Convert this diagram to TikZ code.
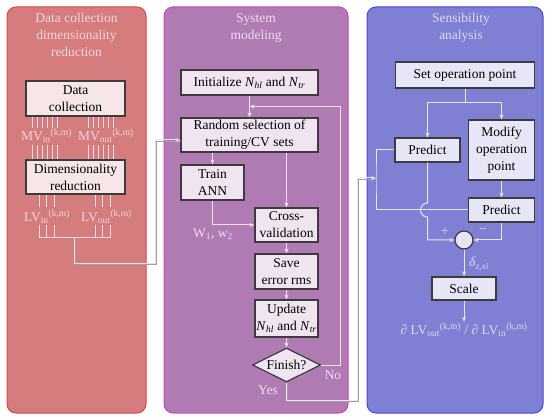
\documentclass[tikz,border=0pt]{standalone}
\usepackage{fontspec}
\setmainfont{Liberation Serif}
\usetikzlibrary{arrows.meta,shapes.geometric,calc}
\definecolor{redfill}{HTML}{D47C7E}
\definecolor{redborder}{HTML}{E04444}
\definecolor{purfill}{HTML}{B07BB3}
\definecolor{purborder}{HTML}{CC44CC}
\definecolor{blufill}{HTML}{7F7FD4}
\definecolor{bluborder}{HTML}{4848E0}
\definecolor{redbox}{HTML}{F6E6E8}
\definecolor{purbox}{HTML}{F1E4F1}
\definecolor{blubox}{HTML}{E6E6F6}
\definecolor{redtxt}{HTML}{F6D8D9}
\definecolor{purtxt}{HTML}{F0DCF0}
\definecolor{blutxt}{HTML}{DCDCF6}
\definecolor{redln}{HTML}{F4DCDD}
\definecolor{purln}{HTML}{F0E0F0}
\definecolor{bluln}{HTML}{E6E6F8}
\definecolor{boxline}{HTML}{3C3C3C}
\newcommand{\Nsub}[1]{\textit{N}\textsubscript{\textit{#1}}}
\begin{document}
\begin{tikzpicture}[x=1pt,y=-1pt,
  font=\fontsize{13.5}{17}\selectfont,
  panel/.style={rounded corners=9pt, line width=1pt},
  ttl/.style={align=center, inner sep=0pt, anchor=north},
  box/.style={draw=boxline, line width=1.2pt, align=center, inner sep=0pt, text=black},
  conn/.style={line width=1pt},
  tip/.style={-{Stealth[length=5pt,width=4pt]}},
  xconn/.style={line width=1pt, preaction={draw=gray!75, line width=1pt, transform canvas={shift={(1.2pt,-1.2pt)}}}},
  lbl/.style={inner sep=1pt}
]
\useasboundingbox (0,0) rectangle (550,420);
\fill[white] (0,0) rectangle (550,420);

% panels
\draw[panel, fill=redfill, draw=redborder] (7,7) rectangle (146,413);
\draw[panel, fill=purfill, draw=purborder] (164,7) rectangle (348,413);
\draw[panel, fill=blufill, draw=bluborder] (367,7) rectangle (543,413);

% titles
\node[ttl, text=redtxt] (t1) at (76.5,13) {Data collection\\dimensionality\\reduction};
\node[ttl, text=purtxt] (t2) at (256,13) {System\\modeling};
\node[ttl, text=blutxt] (t3) at (461,13) {Sensibility\\analysis};

% ---------- red panel ----------
\node[box, fill=redbox, minimum width=99pt, minimum height=35pt] (dc) at (75.5,98.5) {Data\\collection};
\node[box, fill=redbox, minimum width=99pt, minimum height=34pt] (dr) at (75.5,177) {Dimensionality\\reduction};
\node[lbl, text=redtxt] (mvin) at (46.5,136) {MV\textsubscript{in}\textsuperscript{(k,m)}};
\node[lbl, text=redtxt] (mvout) at (106,136) {MV\textsubscript{out}\textsuperscript{(k,m)}};
\node[lbl, text=redtxt] (lvin) at (47,217) {LV\textsubscript{in}\textsuperscript{(k,m)}};
\node[lbl, text=redtxt] (lvout) at (106.5,217) {LV\textsubscript{out}\textsuperscript{(k,m)}};
\foreach \x in {32,37,42,47,52,57,88,93,98,103,108,113}{
  \draw[conn, redln] (\x,0 |- dc.south) -- (\x,128);
  \draw[conn, redln] (\x,145) -- (\x,0 |- dr.north);
}
\foreach \x in {39,46.5,54,95,102.5,110}{
  \draw[conn, redln] (\x,0 |- dr.south) -- (\x,207);
  \draw[conn, redln] (\x,225) -- (\x,238);
}
\coordinate (lvc) at (74.5,238);
\draw[conn, redln] (39,238) -- (110,238);

% ---------- purple panel ----------
\node[box, fill=purbox, minimum width=137pt, minimum height=25pt] (init) at (249.5,82.5) {Initialize \Nsub{hl} and \Nsub{tr}};
\node[box, fill=purbox, minimum width=137pt, minimum height=34pt] (rs) at (249.5,135) {Random selection of\\training/CV sets};
\node[box, fill=purbox, minimum width=63pt, minimum height=35pt] (ann) at (212.5,182.5) {Train\\ANN};
\node[box, fill=purbox, minimum width=63pt, minimum height=34pt] (cv) at (286.5,225) {Cross-\\validation};
\node[box, fill=purbox, minimum width=63pt, minimum height=35pt] (save) at (286.5,271.5) {Save\\error rms};
\node[box, fill=purbox, minimum width=63pt, minimum height=37pt] (upd) at (286.5,318.5) {Update\\\Nsub{hl} and \Nsub{tr}};
\node[box, fill=purbox, diamond, aspect=2, minimum width=68pt, minimum height=34pt] (fin) at (286.5,365) {Finish?};

\coordinate (fb) at ($(init.south)!0.5!(rs.north)$);
\draw[conn, purln, tip] (init.south) -- (rs.north);
\draw[conn, purln, tip] (fin.east) -- ++(19,0) |- (fb);
\draw[conn, purln, tip] (rs.south -| ann.north) -- (ann.north);
\draw[conn, purln, tip] (rs.south -| cv.north) -- (cv.north);
\draw[conn, purln, tip] (ann.south) |- (cv.west);
\draw[conn, purln, tip] (cv.south) -- (save.north);
\draw[conn, purln, tip] (save.south) -- (upd.north);
\draw[conn, purln, tip] (upd.south) -- (fin.north);
\node[lbl, text=purtxt] (w12) at (213,234) {W\textsubscript{1}, w\textsubscript{2}};
\node[lbl, text=purtxt] (no) at (333,375) {No};
\node[lbl, text=purtxt] (yes) at (268,390) {Yes};

% ---------- blue panel ----------
\node[box, fill=blubox, minimum width=139pt, minimum height=26pt] (sop) at (465,75) {Set operation point};
\node[box, fill=blubox, minimum width=65pt, minimum height=24pt] (p1) at (427.5,150) {Predict};
\node[box, fill=blubox, minimum width=66pt, minimum height=60pt] (mod) at (501.5,150) {Modify\\operation\\point};
\node[box, fill=blubox, minimum width=66pt, minimum height=24pt] (p2) at (501.5,210) {Predict};
\node[draw=boxline, line width=1.2pt, fill=blubox, circle, minimum size=18pt, inner sep=0pt] (circ) at (464,240) {};
\node[box, fill=blubox, minimum width=64pt, minimum height=23pt] (sc) at (464,288.5) {Scale};
\node[lbl, text=blutxt] (res) at (464,330) {∂ LV\textsubscript{out}\textsuperscript{(k,m)} / ∂ LV\textsubscript{in}\textsuperscript{(k,m)}};

\coordinate (spl) at ($(sop.south)+(0,14)$);
\draw[conn, bluln] (sop.south) -- (spl);
\draw[conn, bluln, tip] (spl) -| (p1.north);
\draw[conn, bluln, tip] (spl) -| (mod.north);
\draw[conn, bluln, tip] (mod.south) -- (p2.north);
\coordinate (bus) at (376,178);
\draw[conn, bluln] (p1.west) -| (bus) |- (p2.west);
\draw[conn, bluln, tip] (p1.south) -- (427.5,203) arc[start angle=90, end angle=270, radius=7pt] |- (circ.west);
\draw[conn, bluln, tip] (p2.south) |- (circ.east);
\draw[conn, bluln, tip] (circ.south) -- (sc.north);
\draw[conn, bluln, tip] (sc.south) -- (res.north);
\node[lbl, text=blutxt] (plus) at (445,232) {+};
\node[lbl, text=blutxt] (minus) at (483,231) {−};
\node[lbl, text=blutxt] (dlt) at (479,264) {\textit{δ}\textsubscript{\textit{z,xi}}};

% ---------- inter-panel connectors ----------
\coordinate (gapA) at (155,263);
\coordinate (gapB) at (357,400);
\draw[xconn, redln, tip] (lvc) |- (gapA) |- ([yshift=-5pt]rs.west);
\draw[xconn, purln, tip] (fin.south) |- (gapB) |- (bus);
\end{tikzpicture}
\end{document}
